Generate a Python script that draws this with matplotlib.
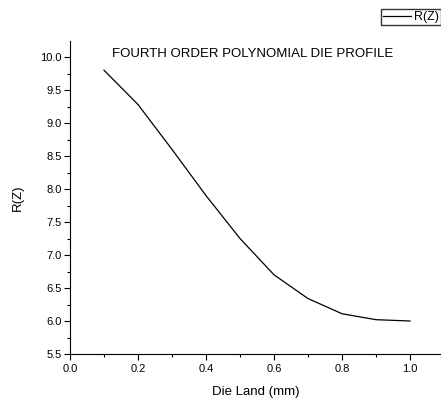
import matplotlib.pyplot as plt
from matplotlib.ticker import MultipleLocator

plt.rcParams['font.family'] = ['Liberation Sans', 'DejaVu Sans']

# die profile data
die_land = [0.1, 0.2, 0.3, 0.4, 0.5, 0.6, 0.7, 0.8, 0.9, 1.0]
radius = [9.80, 9.28, 8.60, 7.90, 7.25, 6.70, 6.34, 6.11, 6.02, 6.00]

fig = plt.figure(figsize=(4.41, 4.03), dpi=100)
ax = fig.add_axes([70/441, 49/403, 371/441, 313/403])

line, = ax.plot(die_land, radius, color='black', lw=0.9, label='R(Z)')

ax.set_xlim(0, 371/340)
ax.set_ylim(5.5, 10.0 + 16/66)
ax.xaxis.set_major_locator(MultipleLocator(0.2))
ax.xaxis.set_minor_locator(MultipleLocator(0.1))
ax.yaxis.set_major_locator(MultipleLocator(0.5))
ax.yaxis.set_minor_locator(MultipleLocator(0.25))
ax.tick_params(which='major', direction='out', length=4, width=0.8, labelsize=8, pad=2)
ax.tick_params(axis='x', which='major', pad=3)
ax.tick_params(which='minor', direction='out', length=2.5, width=0.8)
ax.spines['top'].set_visible(False)
ax.spines['right'].set_visible(False)

ax.set_xlabel('Die Land (mm)', fontsize=9.5, labelpad=9)
ax.set_ylabel('R(Z)', fontsize=9.5, labelpad=12)
ax.text(0.493, 0.958, 'FOURTH ORDER POLYNOMIAL DIE PROFILE', transform=ax.transAxes,
        ha='center', va='center', fontsize=9.5)

fig.legend(handles=[line], loc='upper right', bbox_to_anchor=(1.0, 1 - 9/403),
           fontsize=9, frameon=True, fancybox=False, edgecolor='black',
           handlelength=2.2, borderpad=0.15, handletextpad=0.3, borderaxespad=0)

fig.savefig('out.png', dpi=100)
